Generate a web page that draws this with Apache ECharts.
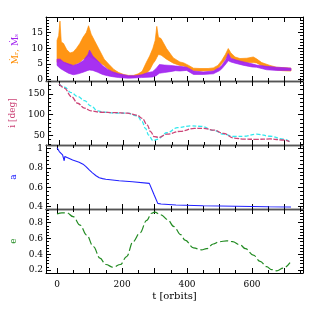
<!DOCTYPE html>
<html><head><meta charset="utf-8">
<script src="https://cdn.jsdelivr.net/npm/echarts@6/dist/echarts.min.js"></script>
<style>html,body{margin:0;padding:0;background:#fff}#c{width:319px;height:319px}</style>
</head><body><div id="c"></div>
<script>
// ---- Panel 1: accretion rates (noisy bands: low / high envelopes) ----
const T_OR  = [0,5,9,13,20,30,40,50,60,70,80,90,97,105,115,130,145,160,175,190,205,220,235,250,262,275,285,295,302,307,312,320,337,358,378,390,405,420,440,465,481,495,507,518,527,535,548,563,584,604,614,630,655,676,695,712,720];
const OR_LO = [5.5,5.5,6,6,5.5,5,4.5,4.5,5,5.5,6.5,7,7.5,7,6.5,5.5,4.5,3,2,1.5,1,0.8,0.8,1,1.3,2,3,5,6,7,8,7.8,6.5,5.2,4.5,4.3,3.5,2.8,2.7,2.8,2.9,3.5,5,6.5,8,7,6.1,5.6,5.4,5.4,5.3,4.4,3.6,3.0,2.8,2.7,2.7];
const OR_HI = [12.5,14,18.7,12,11.5,9.5,8.5,8.8,10,11.5,13.5,15,17.2,14.5,12.5,9.5,6.5,4.8,3.2,2.2,1.6,1.3,1.3,1.8,2.6,5.5,7.5,10,12.5,17,13.5,13.1,9.9,6.9,5.6,5.3,4.5,3.6,3.5,3.5,3.7,4.5,6.1,8,9.9,8.5,7.2,6.7,6.8,7.2,6.6,5.4,4.5,3.9,3.8,3.7,3.6];
const T_PU  = [0,10,20,35,50,65,80,95,100,110,125,140,155,170,190,205,220,240,260,280,294,305,315,330,348,365,378,399,420,450,481,500,507,520,527,535,548,575,600,614,645,676,712,720];
const PU_LO = [4.5,3.5,2.9,2,1.5,1.8,2.3,2.9,3,2.9,2.3,1.6,1.2,0.9,0.6,0.5,0.4,0.5,0.6,0.7,0.8,1.2,2.0,2.2,2.5,2.8,2.7,2.9,1.6,1.6,1.8,2.8,3.4,5,6,5.6,5.2,4.5,4,3.9,3.1,2.9,2.9,2.9];
const PU_HI = [6.5,6.5,5.6,5,4.5,5,6,8,9.4,7.5,6,4.5,3.3,2.5,1.8,1.5,1.2,1.2,1.5,2.2,2.5,3.5,4.8,4.6,4.5,4.3,4.2,3.9,2.7,2.4,2.7,3.8,4.5,6.5,8.3,6.8,6.3,5.6,5,4.6,4.2,3.9,3.7,3.6];

// ---- Panel 2: inclination [deg] ----
const T_IR = [0,17,38,58,79,99,130,171,212,243,258,274,284,296,310,335,376,420,448,481,510,543,574,614,655,696,715];
const I_R  = [174,164,143.5,127.5,115.5,109,105.8,105,103.6,98.5,91,75,59,47,45.5,53,60,67,67,63,55,43.7,41,40.7,41.5,39,35];
const T_IC = [0,17,38,58,79,99,120,140,171,212,243,258,268,278,292,304,335,368,409,440,481,510,543,574,614,655,696,715];
const I_C  = [174,166,153,143.5,134,121,109,106,104,103.6,97,83,67,51,37,40.5,56.5,69,73,72,62,53,47.5,48,53,48,41,35];

// ---- Panel 3: semi-major axis a ----
const T_A = [0,7,17,21,22,24,27,48,68,80,89,99,109,120,130,140,150,191,232,284,289,299,310,320,366,450,550,650,720];
const A_V = [1.01,0.97,0.935,0.925,0.875,0.92,0.91,0.883,0.86,0.84,0.814,0.78,0.75,0.72,0.70,0.69,0.683,0.668,0.658,0.641,0.624,0.52,0.434,0.427,0.417,0.41,0.405,0.40,0.397];

// ---- Panel 4: eccentricity e ----
const T_E = [0,15,30,50,71,91,112,132,150,173,195,214,234,255,276,291,300,320,340,360,380,394,420,445,460,481,500,522,540,563,580,604,625,645,660,676,696,717];
const E_V = [0.91,0.925,0.927,0.876,0.77,0.644,0.496,0.35,0.27,0.235,0.27,0.37,0.56,0.67,0.83,0.92,0.935,0.9,0.84,0.75,0.65,0.58,0.48,0.455,0.47,0.53,0.56,0.57,0.56,0.52,0.47,0.39,0.31,0.243,0.205,0.19,0.223,0.294];

// ---- axes / ticks ----
const X_RANGE = [-34, 757];
const X_MAJOR = [0,100,200,300,400,500,600,700];
const X_MINOR = [50,150,250,350,450,550,650,750];
const X_LABELS = [0,200,400,600];

const FONT = 'DejaVu Serif';
const panels = [
  {top:17, min:-0.5, max:20, major:[0,5,10,15],
   minor:[1,2,3,4,6,7,8,9,11,12,13,14,16,17,18,19], labels:[0,5,10,15],
   name:'{r|Ṁᵣ,} {s|Ṁₛ}', nameColor:'#000'},
  {top:81, min:27, max:181, major:[50,100,150],
   minor:[30,40,60,70,80,90,110,120,130,140,160,170,180], labels:[50,100,150],
   name:'i [deg]', nameColor:'#cc4477'},
  {top:145, min:0.376, max:1.038, major:[0.4,0.6,0.8,1.0],
   minor:[0.44,0.48,0.52,0.56,0.64,0.68,0.72,0.76,0.84,0.88,0.92,0.96], labels:[0.4,0.6,0.8,1.0],
   name:'a', nameColor:'#2222ff'},
  {top:209, min:0.162, max:0.974, major:[0.2,0.4,0.6,0.8],
   minor:[0.24,0.28,0.32,0.36,0.44,0.48,0.52,0.56,0.64,0.68,0.72,0.76,0.84,0.88,0.92,0.96], labels:[0.2,0.4,0.6,0.8],
   name:'e', nameColor:'#228b22'}
];

const grids = [], xAxes = [], yAxes = [];
const lineCol = '#000';
panels.forEach((p, k) => {
  grids.push({left:46, right:16, top:p.top, height:64});
  const innerBottom = k < 3, innerTop = k > 0;
  const mkX = (pos, ticks, len, isMain, showLine) => {
    const inner = (pos==='bottom'&&innerBottom)||(pos==='top'&&innerTop);
    return {
    gridIndex:k, type:'value', min:X_RANGE[0], max:X_RANGE[1], position:pos,
    axisLine:{show:showLine, onZero:false, lineStyle:{color: inner ? '#555' : lineCol, width: inner ? 1.4 : 1}},
    axisTick:{show:true, inside:true, length:len, customValues:ticks, lineStyle:{color:'#000', width:1}},
    axisLabel:{show: isMain && k===3, customValues:X_LABELS, margin:7, fontFamily:FONT, fontSize:9, color:'#000'},
    splitLine:{show:false},
    name: (isMain && k===3) ? 't [orbits]' : '',
    nameLocation:'middle', nameGap:18,
    nameTextStyle:{fontFamily:FONT, fontSize:10, color:'#000'}
  };};
  xAxes.push(mkX('bottom', X_MAJOR, 5, true, true));
  xAxes.push(mkX('bottom', X_MINOR, 3, false, false));
  xAxes.push(mkX('top', X_MAJOR, 5, false, true));
  xAxes.push(mkX('top', X_MINOR, 3, false, false));
  const mkY = (pos, ticks, len, isMain, showLine) => ({
    gridIndex:k, type:'value', min:p.min, max:p.max, position:pos,
    axisLine:{show:showLine, onZero:false, lineStyle:{color:lineCol, width:1}},
    axisTick:{show:true, inside:true, length:len, customValues:ticks, lineStyle:{color:'#000', width:1}},
    axisLabel:{show:isMain, customValues:p.labels, margin:3, fontFamily:FONT, fontSize:9, color:'#000'},
    splitLine:{show:false},
    name: isMain ? p.name : '',
    nameLocation:'middle', nameGap:24, nameRotate:90,
    nameTextStyle:{fontFamily:FONT, fontSize:9, color:p.nameColor,
      rich:{r:{color:'#ff8c00', fontFamily:FONT, fontSize:9}, s:{color:'#a020f0', fontFamily:FONT, fontSize:9}}}
  });
  yAxes.push(mkY('left', p.major, 5, true, true));
  yAxes.push(mkY('left', p.minor, 3, false, false));
  yAxes.push(mkY('right', p.major, 5, false, true));
  yAxes.push(mkY('right', p.minor, 3, false, false));
});

// filled band between low and high envelopes, positioned through the axis scales
function band(T, lo, hi, color) {
  return {type:'custom', xAxisIndex:0, yAxisIndex:0, silent:true, clip:true,
    data:[[T[0], lo[0]]],
    renderItem:(params, api) => {
      const pts = [];
      for (let i = 0; i < T.length; i++) pts.push(api.coord([T[i], hi[i]]));
      for (let i = T.length - 1; i >= 0; i--) pts.push(api.coord([T[i], lo[i]]));
      return {type:'polygon', shape:{points:pts},
        style:{fill:color, stroke:color, lineWidth:0.7, opacity:0.92}};
    }};
}
function line(ax, T, V, color, dash, width, smooth) {
  return {type:'line', xAxisIndex:ax*4, yAxisIndex:ax*4, symbol:'none', silent:true,
    smooth:smooth, smoothMonotone:'x',
    data:T.map((t,i)=>[t, V[i]]),
    lineStyle:{color:color, width:width, type:dash}};
}

const series = [
  band(T_OR, OR_LO, OR_HI, '#ff8c00'),
  band(T_PU, PU_LO, PU_HI, '#a020f0'),
  line(1, T_IC, I_C, '#33e8ee', [4,2], 1.3, 0.4),
  line(1, T_IR, I_R, '#cc4477', [5,1.5], 1.3, 0.4),
  line(2, T_A, A_V, '#2222ff', 'solid', 1.1, false),
  line(3, T_E, E_V, '#228b22', [8,3], 1.2, 0.4)
];

const chart = echarts.init(document.getElementById('c'), null, {renderer:'canvas'});
chart.setOption({
  animation:false,
  backgroundColor:'#fff',
  grid:grids, xAxis:xAxes, yAxis:yAxes, series:series
});
</script></body></html>
